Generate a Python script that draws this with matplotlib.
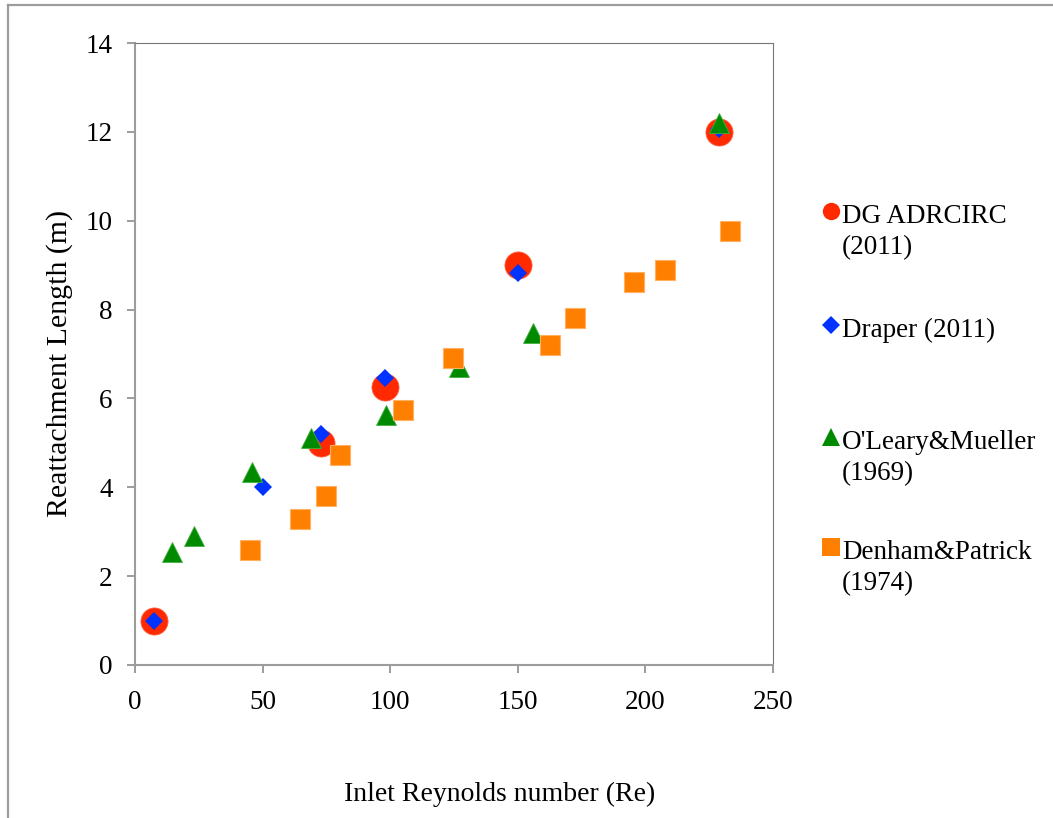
import matplotlib.pyplot as plt
from matplotlib.lines import Line2D
import numpy as np

plt.rcParams['font.family'] = ['Liberation Serif', 'DejaVu Serif']

# reattachment length vs inlet Reynolds number
dg_re = [7.5, 73, 98, 150, 229]
dg_len = [1.0, 5.0, 6.25, 9.0, 12.0]

draper_re = [7.5, 50, 73, 98, 150, 229]
draper_len = [1.0, 4.0, 5.2, 6.47, 8.82, 12.07]

oleary_re = [14.5, 23, 46, 69, 98.5, 127, 156, 229]
oleary_len = [2.55, 2.9, 4.35, 5.1, 5.62, 6.7, 7.48, 12.2]

denham_re = [45, 64.7, 74.8, 80.3, 105, 124.6, 162.6, 172.4, 195.5, 207.7, 233]
denham_len = [2.58, 3.28, 3.8, 4.72, 5.73, 6.92, 7.2, 7.82, 8.62, 8.9, 9.77]

labels = ['DG ADRCIRC\n(2011)', 'Draper (2011)', "O'Leary&Mueller\n(1969)", 'Denham&Patrick\n(1974)']

red = '#ff2a00'
blue = '#0033ff'
green = '#008a00'
orange = '#ff8000'
grey = '#9c9c9c'

W, H = 1053, 818
fig = plt.figure(figsize=(W / 100, H / 100), dpi=100)
ax = fig.add_axes([135 / W, 1 - 665 / H, 638 / W, 622 / H])

ax.plot(dg_re, dg_len, 'o', ms=19.5, color=red, mec='#ff6040', mew=0.6, zorder=3)
ax.plot(draper_re, draper_len, 'D', ms=9, color=blue, mec=blue, mew=0, zorder=4)
ax.plot(oleary_re, oleary_len, '^', ms=15, color=green, mec='#40b040', mew=0.6, zorder=5)
ax.plot(denham_re, denham_len, 's', ms=15, color=orange, mec='#ffb060', mew=0.8, zorder=6)

ax.set_xlim(0, 250)
ax.set_ylim(0, 14)
ax.set_xticks(np.arange(0, 251, 50))
ax.set_yticks(np.arange(0, 15, 2))
ax.tick_params(axis='both', direction='out', length=6, width=1.4, color=grey,
               labelsize=19.5)
ax.tick_params(axis='x', pad=12)
ax.tick_params(axis='y', pad=10)

for side in ['left', 'bottom']:
    ax.spines[side].set_color(grey)
    ax.spines[side].set_linewidth(1.5)
for side in ['top', 'right']:
    ax.spines[side].set_color('#777777')
    ax.spines[side].set_linewidth(0.8)
    ax.spines[side].set_linestyle((0, (1, 1)))

fig.text(60 / W, 1 - 363 / H, 'Reattachment Length (m)', fontsize=21.5,
         rotation=90, ha='center', va='center')
fig.text(500 / W, 1 - 794 / H, 'Inlet Reynolds number (Re)', fontsize=20,
         ha='center', va='center')

# legend, drawn entry by entry to the right of the plot
markers = ['o', 'D', '^', 's']
colors = [red, blue, green, orange]
sizes = [12.5, 9, 13, 13]
rows = [211, 325, 437, 547]
for lab, mk, col, sz, row in zip(labels, markers, colors, sizes, rows):
    y = 1 - row / H
    fig.add_artist(Line2D([831 / W], [y], marker=mk, ms=sz, color=col, mew=0,
                          transform=fig.transFigure))
    fig.text(842 / W, y + 7 / H, lab, fontsize=19.5, ha='left', va='top',
             linespacing=1.3)

# outer frame
fig.add_artist(Line2D([8 / W, 8 / W], [0, 1 - 5 / H], color=grey, lw=1.6,
                      transform=fig.transFigure))
fig.add_artist(Line2D([8 / W, 1], [1 - 5 / H, 1 - 5 / H], color=grey, lw=1.6,
                      transform=fig.transFigure))

fig.savefig('out.png', dpi=100)
